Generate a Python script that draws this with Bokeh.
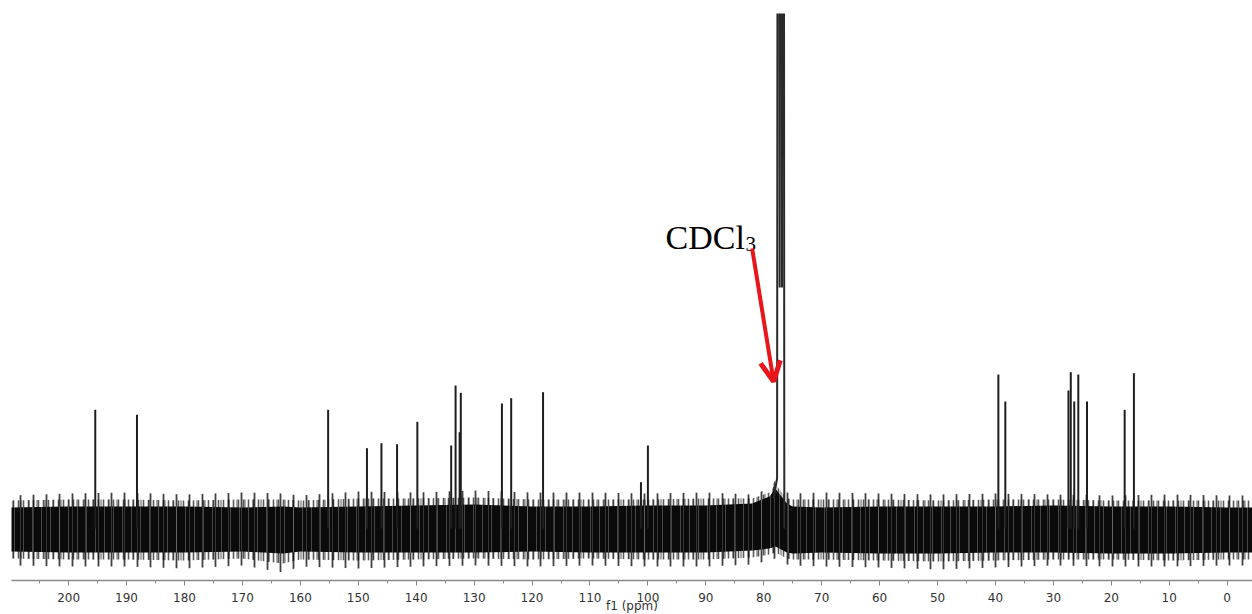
from bokeh.plotting import figure
from bokeh.models import Range1d, LinearAxis, FixedTicker, Arrow, OpenHead, ColumnDataSource
from bokeh.core.properties import value
from bokeh.embed import file_html
from bokeh.resources import INLINE

# ---- data (chemical shift in ppm, intensity in arbitrary units) ----
peak_ppm = [195.4, 188.2, 155.2, 148.5, 146.0, 143.3, 139.8, 133.96, 133.2, 132.5, 132.3,
            125.2, 123.6, 118.1, 101.2, 100.0,
            39.5, 38.3, 27.4, 27.0, 26.4, 25.7, 24.2, 17.7, 16.1]
peak_int = [118.7, 113.7, 118.7, 80.3, 85.3, 84.3, 106.7, 83.0, 143.0, 96.3, 135.7,
            125.0, 130.3, 136.3, 46.3, 83.0,
            154.0, 127.0, 138.0, 156.3, 127.0, 154.0, 127.0, 118.7, 155.3]

# CDCl3 solvent triplet profile (goes off scale)
cdcl3_ppm = [78.3, 77.7, 77.45, 77.25, 77.04, 76.85, 76.65, 76.45]
cdcl3_int = [30, 50, 2000, 241, 2000, 241, 2000, 0]

# baseline noise envelope
noise_ppm = [210, 200, 190, 180, 170, 163, 160, 150, 140, 130, 120, 110, 100, 90, 82, 79, 78,
             76, 75, 70, 60, 50, 40, 30, 20, 10, 0, -5]
core_hi = [21, 22, 22, 22, 21, 22, 21, 22, 23, 24, 22, 22, 23, 23, 25, 32, 40,
           25, 22, 21, 22, 22, 22, 23, 22, 22, 21, 21]
core_lo = [-23, -24, -24, -24, -23, -25, -23, -24, -24, -24, -23, -24, -24, -24, -22, -20, -18,
           -24, -25, -24, -25, -25, -24, -24, -25, -25, -24, -24]
mid_hi = [28, 29, 29, 28, 29, 29, 28, 30, 30, 31, 29, 29, 29, 30, 30, 36, 44,
          30, 29, 29, 29, 28, 29, 29, 28, 28, 28, 28]
mid_lo = [-30, -31, -31, -32, -30, -35, -31, -32, -31, -30, -31, -30, -31, -31, -29, -26, -24,
          -30, -31, -31, -32, -33, -32, -31, -31, -32, -31, -31]
spike_hi = [33, 35, 36, 34, 36, 35, 33, 37, 36, 38, 36, 36, 35, 36, 34, 40, 48,
            36, 35, 36, 35, 34, 35, 34, 33, 34, 33, 33]
spike_lo = [-37, -38, -38, -40, -37, -44, -38, -40, -38, -37, -38, -37, -38, -38, -36, -32, -30,
            -36, -37, -38, -39, -41, -39, -37, -38, -38, -37, -37]

major_ticks = list(range(0, 201, 10))
minor_ticks = list(range(-5, 211, 5))

label_main = "CDCl"
label_sub = "3"
label_pos = (96.96, 291)
label_sub_pos = (83.14, 285)
arrow_start = (82.0, 280)
arrow_end = (78.3, 147)

p = figure(frame_width=1241, frame_height=567, output_backend="svg", toolbar_location=None,
           x_range=Range1d(209.86, -4.37), y_range=Range1d(-52, 515),
           x_axis_location=None, y_axis_location=None,
           min_border_left=11, min_border_right=0, min_border_top=13, min_border_bottom=0)
p.outline_line_color = None
p.xgrid.visible = False
p.ygrid.visible = False
p.background_fill_color = "white"
p.border_fill_color = "white"

noise = ColumnDataSource(dict(x=noise_ppm, chi=core_hi, clo=core_lo, mhi=mid_hi, mlo=mid_lo,
                              shi=spike_hi, slo=spike_lo))
# sparse outer spikes of the noise
p.varea(x="x", y1="slo", y2="shi", source=noise, fill_alpha=0.0,
        hatch_pattern="|", hatch_color="#111111", hatch_scale=13, hatch_weight=1.8, hatch_alpha=0.8)
# denser inner fringe
p.varea(x="x", y1="mlo", y2="mhi", source=noise, fill_alpha=0.0,
        hatch_pattern="|", hatch_color="#111111", hatch_scale=5, hatch_weight=1.6, hatch_alpha=0.7)
p.varea(x="x", y1="mlo", y2="mhi", source=noise, fill_alpha=0.0,
        hatch_pattern="|", hatch_color="#111111", hatch_scale=8, hatch_weight=1.4, hatch_alpha=0.5)
# dense core of the noise
p.varea(x="x", y1="clo", y2="chi", source=noise, fill_color="#0a0a0a",
        hatch_pattern="|", hatch_color="#ffffff", hatch_scale=9, hatch_weight=1.0, hatch_alpha=0.25)
p.varea(x="x", y1="clo", y2="chi", source=noise, fill_alpha=0.0,
        hatch_pattern="|", hatch_color="#bbbbbb", hatch_scale=13, hatch_weight=1.0, hatch_alpha=0.25)

p.segment(x0=peak_ppm, y0=[0] * len(peak_ppm), x1=peak_ppm, y1=peak_int,
          line_color="#1e1e1e", line_width=2)
p.line(cdcl3_ppm, cdcl3_int, line_color="#2a2a2a", line_width=2)

p.text(x=[label_pos[0]], y=[label_pos[1]], text=[label_main], text_font=value("Liberation Serif"),
       text_font_size="34px", text_color="black", text_align="left", text_baseline="alphabetic")
p.text(x=[label_sub_pos[0]], y=[label_sub_pos[1]], text=[label_sub], text_font=value("Liberation Serif"),
       text_font_size="21px", text_color="black", text_align="left", text_baseline="alphabetic")

p.add_layout(Arrow(end=OpenHead(size=20, line_color="#e8151b", line_width=5),
                   x_start=arrow_start[0], y_start=arrow_start[1],
                   x_end=arrow_end[0], y_end=arrow_end[1],
                   line_color="#e8151b", line_width=4))

ax = LinearAxis(ticker=FixedTicker(ticks=major_ticks, minor_ticks=minor_ticks))
ax.axis_label = "f1 (ppm)"
ax.axis_line_color = "#8a8a8a"
ax.axis_line_width = 1.5
ax.major_tick_line_color = "#8a8a8a"
ax.minor_tick_line_color = "#8a8a8a"
ax.major_tick_out = 5
ax.major_tick_in = 0
ax.minor_tick_out = 3
ax.minor_tick_in = 0
ax.major_label_standoff = 7
ax.major_label_text_font = "DejaVu Sans"
ax.major_label_text_font_size = "12px"
ax.major_label_text_color = "#333333"
ax.axis_label_text_font = "DejaVu Sans"
ax.axis_label_text_font_size = "12px"
ax.axis_label_text_font_style = "normal"
ax.axis_label_text_color = "#333333"
ax.axis_label_standoff = -6
p.add_layout(ax, "below")

open("out.html", "w").write(file_html(p, INLINE))
